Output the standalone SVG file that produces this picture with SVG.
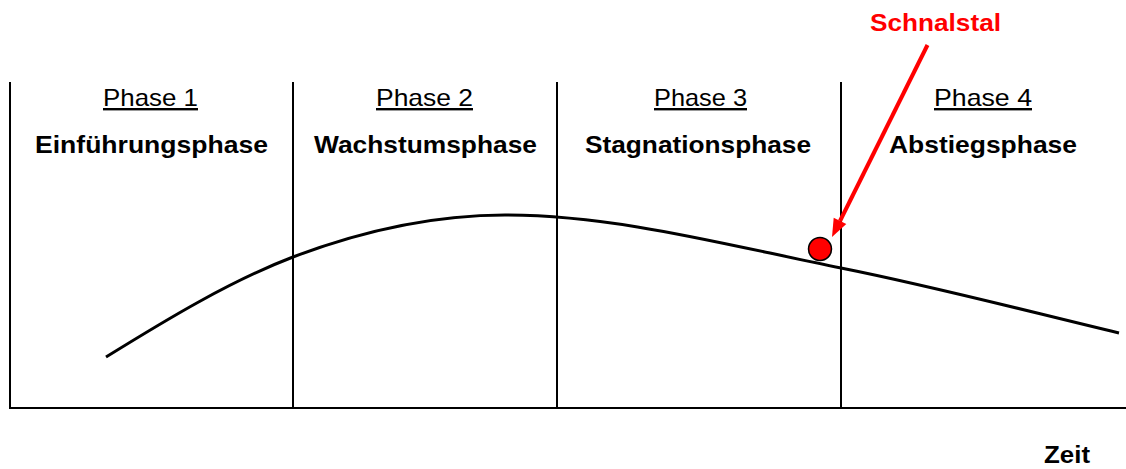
<svg xmlns="http://www.w3.org/2000/svg" width="1126" height="469" viewBox="0 0 1126 469">
<style>
.t{font-family:"Liberation Sans",Arial,sans-serif;font-size:24px;text-anchor:middle;fill:#000}
.ph{text-decoration:underline}
.b{font-weight:bold}
.red{fill:#ff0000}
.ax{stroke:#000;stroke-width:2;fill:none}
</style>
<rect width="1126" height="469" fill="#fff"/>
<g id="frame">
<line class="ax" x1="10" y1="82" x2="10" y2="409"/>
<line class="ax" x1="9" y1="408" x2="1126" y2="408"/>
<line class="ax" x1="293" y1="82" x2="293" y2="408"/>
<line class="ax" x1="557" y1="82" x2="557" y2="408"/>
<line class="ax" x1="841" y1="82" x2="841" y2="408"/>
</g>
<g id="phase1">
<text class="t ph" x="150.5" y="106" textLength="95" lengthAdjust="spacingAndGlyphs">Phase 1</text>
<text class="t b" x="151.5" y="152.5" textLength="233" lengthAdjust="spacingAndGlyphs">Einführungsphase</text>
</g>
<g id="phase2">
<text class="t ph" x="424.5" y="106" textLength="97" lengthAdjust="spacingAndGlyphs">Phase 2</text>
<text class="t b" x="425.5" y="152.5" textLength="223" lengthAdjust="spacingAndGlyphs">Wachstumsphase</text>
</g>
<g id="phase3">
<text class="t ph" x="700.5" y="106" textLength="93" lengthAdjust="spacingAndGlyphs">Phase 3</text>
<text class="t b" x="698" y="152.5" textLength="226" lengthAdjust="spacingAndGlyphs">Stagnationsphase</text>
</g>
<g id="phase4">
<text class="t ph" x="983" y="106" textLength="98" lengthAdjust="spacingAndGlyphs">Phase 4</text>
<text class="t b" x="983" y="152.5" textLength="188" lengthAdjust="spacingAndGlyphs">Abstiegsphase</text>
</g>
<g id="curve">
<path d="M106,357 C168,318.6 231,280.6 293,257 C364,230.1 434,215 505,215 C617,215 729,245.6 841,268 C934,286.5 1026,310.8 1119,333" fill="none" stroke="#000" stroke-width="3"/>
</g>
<g id="ball">
<circle cx="820" cy="249" r="11.5" fill="#ff0000" stroke="#000" stroke-width="1.5"/>
</g>
<g id="connectors">
<line x1="927.5" y1="45" x2="840" y2="221" stroke="#ff0000" stroke-width="4"/>
<polygon points="832,237 846.3,224 833.7,217.8" fill="#ff0000"/>
</g>
<g id="schnalstal">
<text class="t b red" x="935.5" y="31" textLength="131" lengthAdjust="spacingAndGlyphs">Schnalstal</text>
</g>
<g id="zeit">
<text class="t b" x="1067" y="463" textLength="46" lengthAdjust="spacingAndGlyphs">Zeit</text>
</g>
</svg>
